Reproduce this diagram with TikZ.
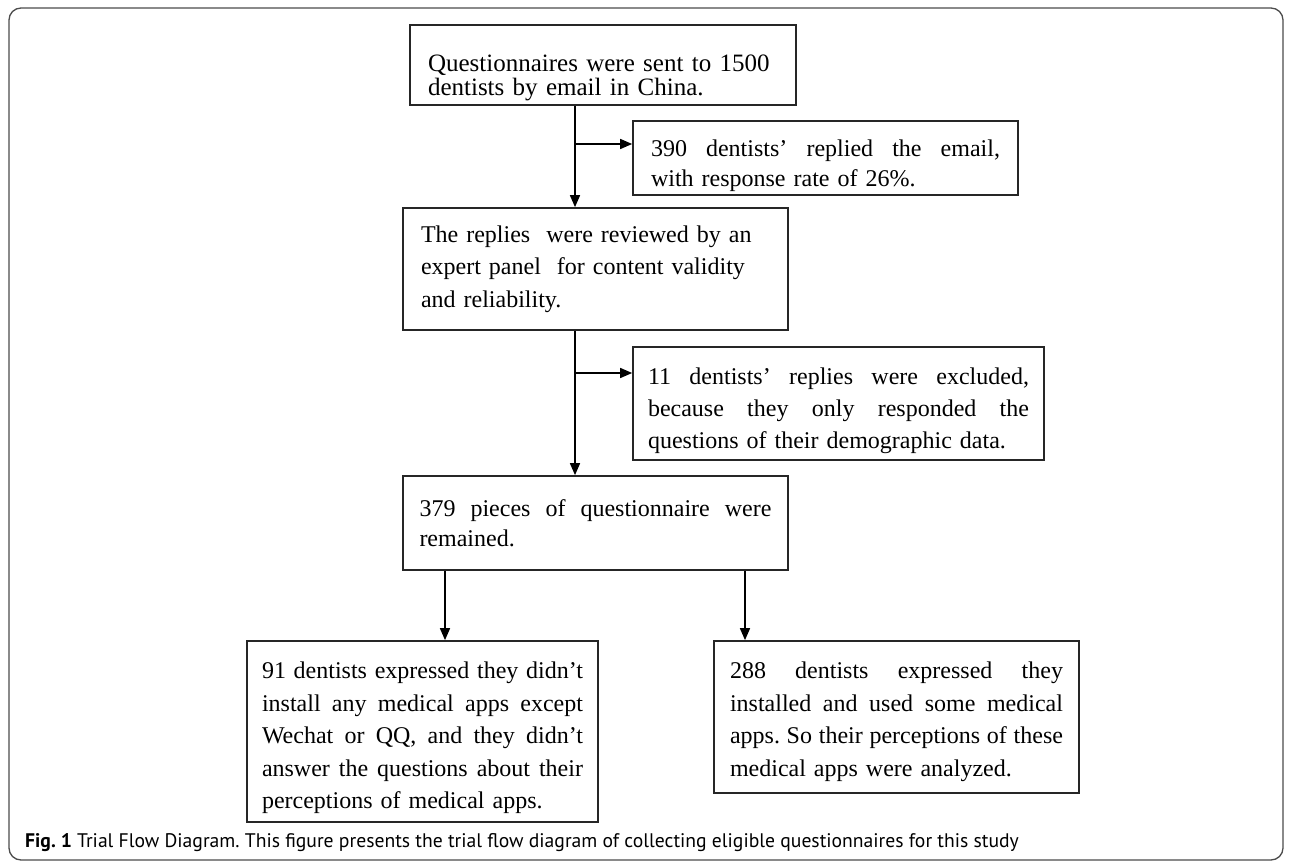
\documentclass[tikz,border=0pt]{standalone}
\usepackage{fontspec}
\usepackage{graphicx}
\setmainfont{Liberation Serif}
\newfontfamily\capfont{PT Sans}
\usetikzlibrary{arrows.meta}
\frenchspacing
% justified line of given width
\newcommand{\jl}[2]{\leavevmode\hbox to #1{\spaceskip=0.25em plus 1fil minus 0.12em\relax #2}}
% invisible strut that pushes a text block down
\newcommand{\dn}[1]{\rule{0pt}{#1}}
\newlength{\capw}
\tikzset{
  box/.style={draw=black!85, line width=1.7pt, fill=white, inner sep=0pt, align=left,
              font=\fontsize{24}{32.5}\selectfont},
  arr/.style={draw=black, line width=1.5pt, -{Triangle[length=12pt,width=10pt]}},
  frame/.style={draw=black!70, line width=1.3pt, rounded corners=12pt}
}
\begin{document}
\begin{tikzpicture}[x=1pt,y=-1pt]
\useasboundingbox (0,0) rectangle (1290,866);
\draw[frame] (9,8) rectangle (1283,860);

\node[box, minimum width=386, minimum height=80, text width=350,
      font=\fontsize{25}{24}\selectfont] (b1) at (603,65)
  {\dn{42pt}Questionnaires were sent to 1500\\dentists by email in China.};

\node[box, minimum width=385, minimum height=74, text width=349,
      font=\fontsize{24}{30}\selectfont] (b2) at (825.5,158)
  {\dn{32pt}\jl{349pt}{390 dentists’ replied the email,}\\with response rate of 26\%.};

\node[box, minimum width=385, minimum height=122, text width=349] (b3) at (595.5,269)
  {The replies~ were reviewed by an\\expert panel~ for content validity\\and reliability.};

\node[box, minimum width=411, minimum height=113, text width=381,
      font=\fontsize{24}{32}\selectfont] (b5) at (838.5,403.5)
  {\dn{32pt}\jl{381pt}{11 dentists’ replies were excluded,}\\\jl{381pt}{because they only responded the}\\questions of their demographic data.};

\node[box, minimum width=385, minimum height=94, text width=352,
      font=\fontsize{24}{30}\selectfont] (b4) at (595.5,523)
  {\jl{352pt}{379 pieces of questionnaire were}\\remained.};

\node[box, minimum width=351, minimum height=181, text width=321] (b6) at (422.5,731.5)
  {\dn{30pt}\jl{321pt}{91 dentists expressed they didn’t}\\\jl{321pt}{install any medical apps except}\\\jl{321pt}{Wechat or QQ, and they didn’t}\\\jl{321pt}{answer the questions about their}\\perceptions of medical apps.};

\node[box, minimum width=365, minimum height=152, text width=333] (b7) at (896.5,717)
  {\dn{26pt}\jl{333pt}{288 dentists expressed they}\\\jl{333pt}{installed and used some medical}\\\jl{333pt}{apps. So their perceptions of these}\\medical apps were analyzed.};

\coordinate (t1) at (575,144);
\coordinate (t2) at (575,373);
\coordinate (s1) at (445,600);
\coordinate (s2) at (745,600);

\draw[arr] (b1.south -| t1) -- (b3.north -| t1);
\draw[arr] (t1) -- (t1 -| b2.west);
\draw[arr] (b3.south -| t2) -- (b4.north -| t2);
\draw[arr] (t2) -- (t2 -| b5.west);
\draw[arr] (b4.south -| s1) -- (b6.north -| s1);
\draw[arr] (b4.south -| s2) -- (b7.north -| s2);

\node[anchor=base west, inner sep=0pt] (cap) at (25,847)
  {\capfont\fontsize{18}{18}\selectfont
   \settowidth{\capw}{\textbf{Fig. 1} Trial Flow Diagram. This figure presents}%
   \pgfmathsetmacro{\capsc}{385/\capw}%
   \scalebox{\capsc}{\textbf{Fig. 1} Trial Flow Diagram. This figure presents the trial flow diagram of collecting eligible questionnaires for this study}};
\end{tikzpicture}
\end{document}
